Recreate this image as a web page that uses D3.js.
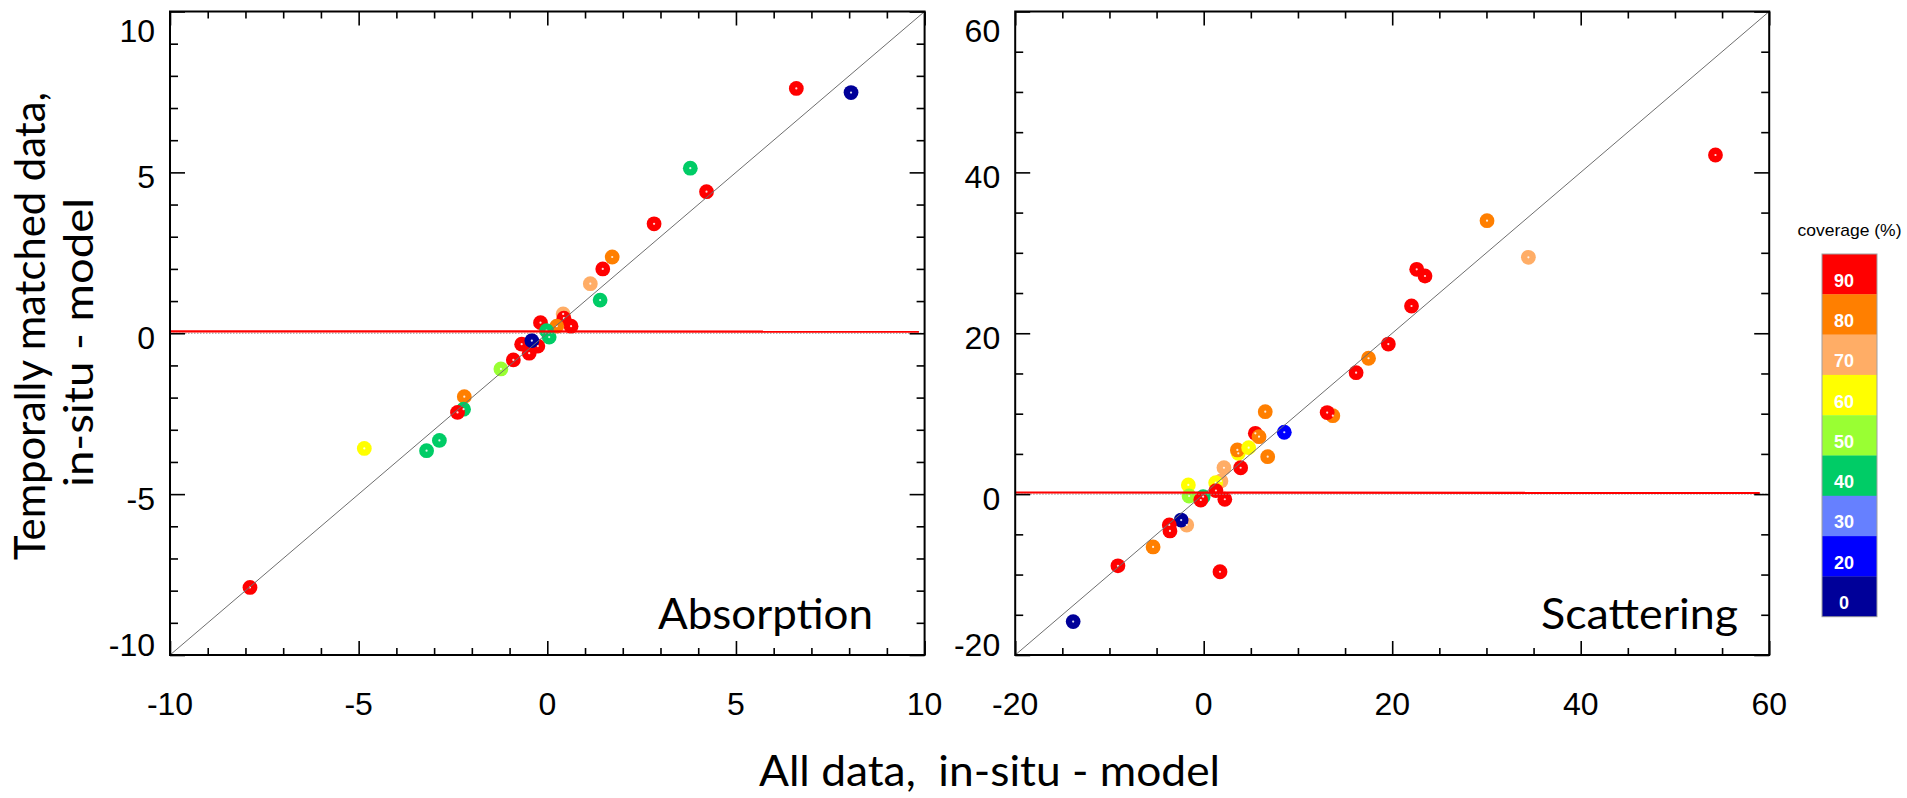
<!DOCTYPE html>
<html>
<head>
<meta charset="utf-8">
<script src="https://cdn.jsdelivr.net/npm/d3@7"></script>
<style>
  html, body { margin: 0; padding: 0; background: #fff; }
  svg { display: block; }
</style>
</head>
<body>
<svg id="chart" width="1907" height="798"></svg>
<script>
// Coverage classes and their colours (legend order, top to bottom)
const coverageLevels = [90, 80, 70, 60, 50, 40, 30, 20, 0];
const coverageColors = ["#ff0000", "#ff7f00", "#ffad66", "#ffff00", "#99ff33", "#00cc66", "#6680ff", "#0000ff", "#000099"];

// Absorption: all data (x) vs temporally matched data (y), in-situ - model
const absX   = [6.60, 8.05, 3.79, 4.22, 2.83, 1.72, 1.47, 1.14, 1.40, 0.42, 0.44, 0.63, 0.25, -0.18, -0.02, 0.05, -0.25, -0.68, -0.48, -0.90, -0.41, -1.23, -2.20, -2.22, -2.38, -4.85, -2.86, -3.20, -7.88];
const absY   = [7.61, 7.48, 5.13, 4.40, 3.40, 2.37, 2.00, 1.54, 1.03, 0.60, 0.47, 0.22, 0.22, 0.33, 0.08, -0.12, -0.40, -0.34, -0.62, -0.83, -0.23, -1.11, -1.97, -2.36, -2.46, -3.58, -3.33, -3.65, -7.90];
const absCov = [90, 0, 40, 90, 90, 80, 90, 70, 40, 70, 90, 90, 80, 90, 40, 40, 90, 90, 90, 90, 0, 50, 80, 40, 90, 60, 40, 40, 90];

// Scattering: all data (x) vs temporally matched data (y), in-situ - model
const scaX   = [54.3, 30.06, 34.45, 22.6, 23.48, 22.05, 19.59, 17.49, 16.17, 13.7, 13.1, 6.53, 8.55, 5.48, 5.87, 3.67, 3.57, 4.77, 6.79, 2.15, 3.92, 1.83, 1.27, -1.63, 1.30, -1.55, -0.06, -0.31, 2.24, -1.80, -2.39, -3.65, -3.58, -5.37, -9.1, 1.73, -13.85];
const scaY   = [42.16, 33.99, 29.44, 27.95, 27.12, 23.39, 18.66, 16.89, 15.1, 9.75, 10.14, 10.25, 7.69, 7.56, 7.14, 5.07, 5.49, 5.78, 4.65, 3.28, 3.28, 1.63, 1.42, 1.14, 0.43, -0.23, -0.32, -0.73, -0.64, -3.84, -3.22, -3.84, -4.58, -6.57, -8.91, -9.65, -15.85];
const scaCov = [90, 80, 70, 90, 90, 90, 90, 80, 90, 80, 90, 80, 20, 90, 80, 60, 80, 60, 80, 70, 90, 70, 60, 60, 90, 50, 40, 90, 90, 70, 0, 90, 90, 80, 90, 90, 0];

// Near-horizontal red reference lines (x endpoints, y endpoints)
const absRefX = [-10, 9.85];
const absRefY = [0.06, 0.05];
const scaRefX = [-20, 59.0];
const scaRefY = [0.2, 0.15];

// Axis ticks
const absMajor = [-10, -5, 0, 5, 10];
const absMinor = [-9, -8, -7, -6, -4, -3, -2, -1, 1, 2, 3, 4, 6, 7, 8, 9];
const absLabels = ["-10", "-5", "0", "5", "10"];
const scaMajor = [-20, 0, 20, 40, 60];
const scaMinor = [-15, -10, -5, 5, 10, 15, 25, 30, 35, 45, 50, 55];
const scaLabels = ["-20", "0", "20", "40", "60"];

const svg = d3.select("#chart");
const numFont = "'Liberation Sans', Arial, Helvetica, sans-serif";
const textFont = "Lato, 'Open Sans', sans-serif";

const colorOf = d3.scaleOrdinal().domain(coverageLevels).range(coverageColors);

function drawPanel(cfg) {
  const x = d3.scaleLinear().domain(cfg.domain).range([cfg.left, cfg.right]);
  const y = d3.scaleLinear().domain(cfg.domain).range([cfg.bottom, cfg.top]);
  const g = svg.append("g");

  // points
  const pts = d3.range(cfg.xs.length).map(i => ({ x: cfg.xs[i], y: cfg.ys[i], c: cfg.cov[i] }));
  const pg = g.append("g");
  pg.selectAll("circle.pt").data(pts).join("circle")
    .attr("class", "pt")
    .attr("cx", d => x(d.x)).attr("cy", d => y(d.y)).attr("r", 7.4)
    .attr("fill", d => colorOf(d.c));
  pg.selectAll("circle.dot").data(pts).join("circle")
    .attr("class", "dot")
    .attr("cx", d => x(d.x)).attr("cy", d => y(d.y)).attr("r", 1.1)
    .attr("fill", "#fff").attr("opacity", 0.85);

  // dotted zero line
  g.append("line")
    .attr("x1", x(cfg.domain[0])).attr("x2", x(cfg.domain[1]))
    .attr("y1", y(0)).attr("y2", y(0))
    .attr("stroke", "#9a9a9a").attr("stroke-width", 1)
    .attr("stroke-dasharray", "1.5,1.5");

  // 1:1 line
  g.append("line")
    .attr("x1", x(cfg.domain[0])).attr("y1", y(cfg.domain[0]))
    .attr("x2", x(cfg.domain[1])).attr("y2", y(cfg.domain[1]))
    .attr("stroke", "#6e6e6e").attr("stroke-width", 1);

  // red reference line
  g.append("path")
    .datum(d3.zip(cfg.refX, cfg.refY))
    .attr("d", d3.line().x(d => x(d[0])).y(d => y(d[1])))
    .attr("fill", "none").attr("stroke", "#ff0000").attr("stroke-width", 2.2);

  // ticks on all four sides, pointing inward
  const tickSet = (axisFn, scale, vals, size, tx, ty) => {
    g.append("g").attr("transform", `translate(${tx},${ty})`)
      .call(axisFn(scale).tickValues(vals).tickSize(-size).tickSizeOuter(0).tickFormat(""))
      .call(a => a.select(".domain").remove())
      .call(a => a.selectAll("line").attr("stroke", "#000").attr("stroke-width", 1.6));
  };
  tickSet(d3.axisBottom, x, cfg.minor, 7, 0, cfg.bottom);
  tickSet(d3.axisBottom, x, cfg.major, 14, 0, cfg.bottom);
  tickSet(d3.axisTop, x, cfg.minor, 7, 0, cfg.top);
  tickSet(d3.axisTop, x, cfg.major, 14, 0, cfg.top);
  tickSet(d3.axisLeft, y, cfg.minor, 8, cfg.left, 0);
  tickSet(d3.axisLeft, y, cfg.major, 15, cfg.left, 0);
  tickSet(d3.axisRight, y, cfg.minor, 8, cfg.right, 0);
  tickSet(d3.axisRight, y, cfg.major, 15, cfg.right, 0);

  // frame
  g.append("rect")
    .attr("x", cfg.left).attr("y", cfg.top)
    .attr("width", cfg.right - cfg.left).attr("height", cfg.bottom - cfg.top)
    .attr("fill", "none").attr("stroke", "#000").attr("stroke-width", 2);

  // bottom tick labels
  g.selectAll("text.xl").data(cfg.major).join("text")
    .attr("class", "xl")
    .attr("x", d => x(d)).attr("y", cfg.bottom + 60)
    .attr("text-anchor", "middle")
    .attr("font-family", numFont).attr("font-size", 32)
    .text((d, i) => cfg.labels[i]);

  // left tick labels, kept inside the vertical extent of the frame
  g.selectAll("text.yl").data(cfg.major).join("text")
    .attr("class", "yl")
    .attr("x", cfg.left - 15)
    .attr("y", d => {
      const c = Math.max(cfg.top + 19, Math.min(cfg.bottom - 11, y(d) + 4.5));
      return c + 11.5;
    })
    .attr("text-anchor", "end")
    .attr("font-family", numFont).attr("font-size", 32)
    .text((d, i) => cfg.labels[i]);

  // panel name
  g.append("text")
    .attr("x", cfg.nameX).attr("y", cfg.bottom - 26)
    .attr("font-family", textFont).attr("font-size", 42)
    .attr("textLength", cfg.nameLen).attr("lengthAdjust", "spacingAndGlyphs")
    .text(cfg.name);
}

drawPanel({
  domain: [-10, 10], left: 170, right: 924.6, top: 11.5, bottom: 655,
  xs: absX, ys: absY, cov: absCov, refX: absRefX, refY: absRefY,
  major: absMajor, minor: absMinor, labels: absLabels,
  name: "Absorption", nameX: 658, nameLen: 215
});

drawPanel({
  domain: [-20, 60], left: 1015.2, right: 1769.2, top: 11.5, bottom: 655,
  xs: scaX, ys: scaY, cov: scaCov, refX: scaRefX, refY: scaRefY,
  major: scaMajor, minor: scaMinor, labels: scaLabels,
  name: "Scattering", nameX: 1541, nameLen: 197
});

// axis titles
svg.append("text")
  .attr("x", 759).attr("y", 786)
  .attr("font-family", textFont).attr("font-size", 42)
  .attr("textLength", 461).attr("lengthAdjust", "spacingAndGlyphs")
  .attr("xml:space", "preserve")
  .text("All data,  in-situ - model");

svg.append("text")
  .attr("transform", "translate(45,560) rotate(-90)")
  .attr("font-family", textFont).attr("font-size", 42)
  .attr("textLength", 468).attr("lengthAdjust", "spacingAndGlyphs")
  .text("Temporally matched data,");

svg.append("text")
  .attr("transform", "translate(93,487) rotate(-90)")
  .attr("font-family", textFont).attr("font-size", 40)
  .attr("textLength", 289).attr("lengthAdjust", "spacingAndGlyphs")
  .text("in-situ - model");

// coverage colour bar
const barX = 1822, barW = 55, barTop = 254, boxH = 40.3;
const legend = svg.append("g");
legend.append("text")
  .attr("x", 1797.5).attr("y", 236)
  .attr("font-family", numFont).attr("font-size", 17)
  .attr("textLength", 104).attr("lengthAdjust", "spacingAndGlyphs")
  .text("coverage (%)");
legend.selectAll("rect.box").data(coverageLevels).join("rect")
  .attr("class", "box")
  .attr("x", barX).attr("y", (d, i) => barTop + i * boxH)
  .attr("width", barW).attr("height", boxH + 0.3)
  .attr("fill", d => colorOf(d));
legend.append("rect")
  .attr("x", barX).attr("y", barTop)
  .attr("width", barW).attr("height", boxH * coverageLevels.length)
  .attr("fill", "none").attr("stroke", "#a0a0a0").attr("stroke-width", 1);
legend.selectAll("text.cl").data(coverageLevels).join("text")
  .attr("class", "cl")
  .attr("x", 1844).attr("y", (d, i) => barTop + i * boxH + boxH / 2 + 12.5)
  .attr("text-anchor", "middle")
  .attr("font-family", numFont).attr("font-size", 18).attr("font-weight", "bold")
  .attr("fill", "#fff")
  .text(d => d);
</script>
</body>
</html>
